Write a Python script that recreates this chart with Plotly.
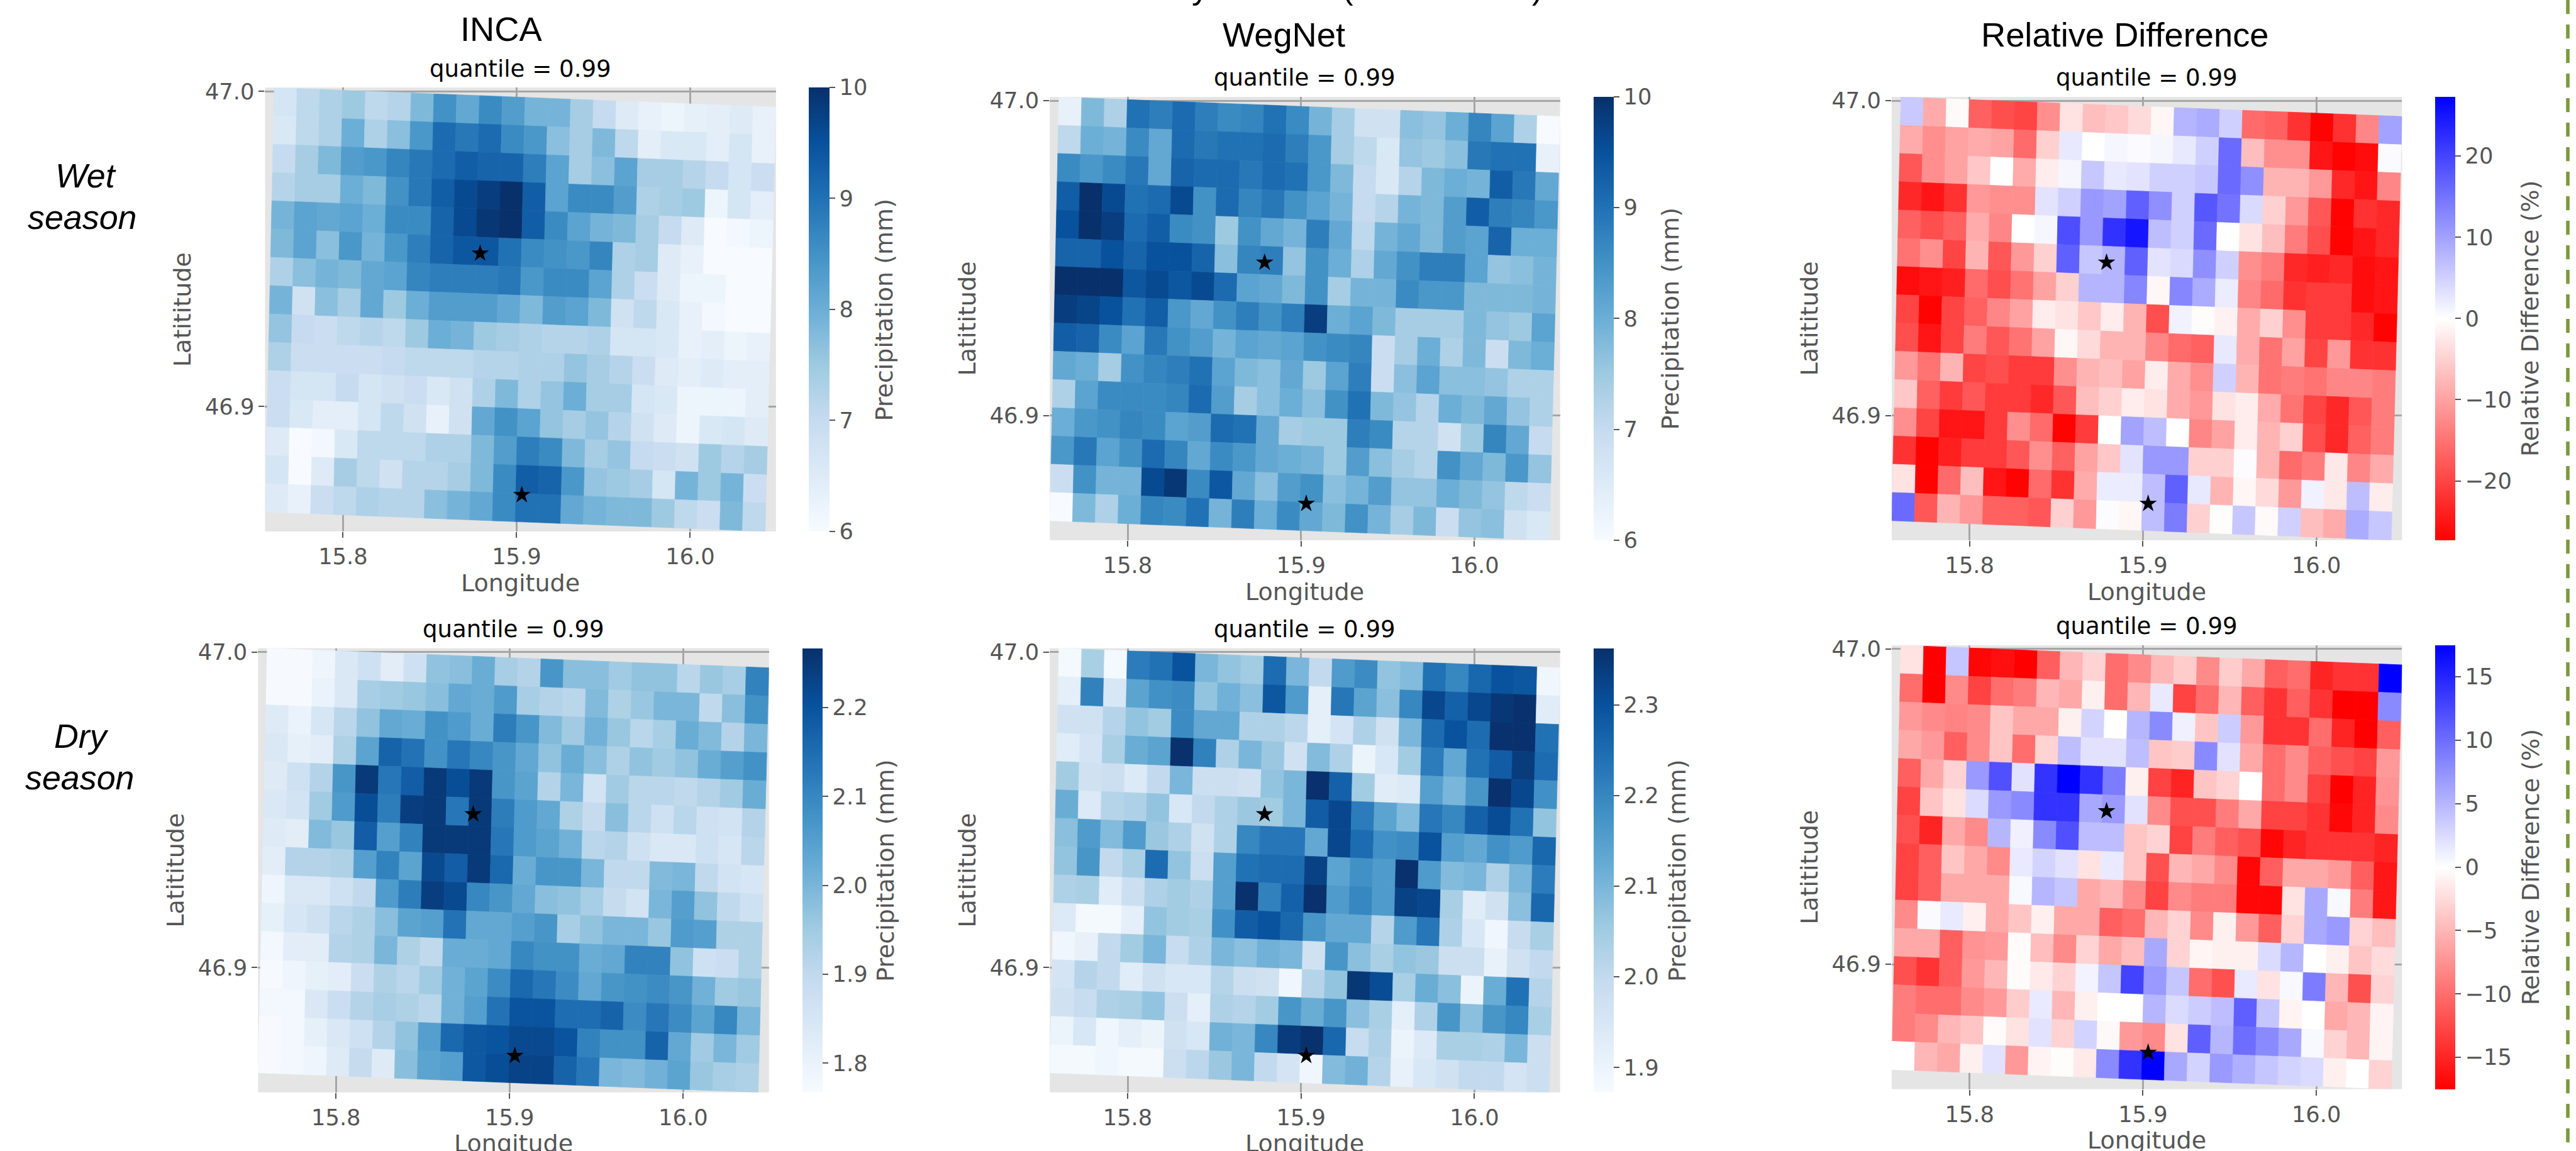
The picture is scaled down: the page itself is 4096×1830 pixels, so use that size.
import plotly.graph_objects as go
from plotly.colors import sample_colorscale

S = 0.928
W, H = 4412, 1971

inca_wet = [
[6.7,7.1,7.3,7.5,7.1,7.2,7.8,8.5,8.1,8.6,8.3,7.9,7.9,7.4,7.0,6.5,6.3,6.2,6.35,6.4,6.5,6.3],
[6.6,7.1,7.3,8.0,7.3,7.7,8.4,9.1,8.9,9.1,8.6,8.4,7.7,7.4,7.8,7.1,6.4,6.6,6.6,6.4,6.7,6.3],
[7.0,7.4,7.8,8.3,8.4,8.7,8.9,9.1,9.3,9.2,9.2,8.8,8.2,7.4,7.7,8.2,7.4,7.4,7.2,7.0,6.7,6.9],
[7.2,7.4,7.4,8.0,7.8,8.5,8.9,9.3,9.6,9.8,10,9.3,8.2,8.6,8.6,8.3,7.3,7.4,7.5,6.2,6.7,6.4],
[7.9,8.2,8.1,8.2,8.0,8.6,8.6,9.2,9.6,9.9,10,9.3,8.6,8.2,7.9,7.8,7.4,7.0,6.5,6.0,6.1,6.2],
[7.8,8.2,7.7,8.4,7.9,8.4,8.8,9.2,9.4,9.4,9.0,8.6,8.5,8.4,8.7,7.3,7.4,6.5,6.3,6.0,6.0,6.0],
[7.3,7.7,7.9,7.8,8.1,8.2,8.7,8.8,8.8,8.8,8.9,8.4,8.6,8.6,8.2,7.3,6.9,6.5,6.2,6.2,6.0,6.0],
[7.9,6.8,7.7,7.4,8.1,7.5,8.0,8.3,8.3,8.3,8.1,7.8,8.3,8.2,7.8,6.8,7.1,6.6,6.3,6.1,6.0,6.0],
[7.6,7.0,6.9,7.1,7.2,7.1,7.5,8.0,7.9,7.5,7.4,7.3,7.2,7.2,7.3,6.7,6.7,6.6,6.3,6.4,6.2,6.3],
[7.3,6.9,6.9,6.9,6.9,7.0,7.1,7.1,7.1,7.2,7.2,7.3,7.3,7.6,7.4,7.2,6.9,6.5,6.4,6.5,6.4,6.4],
[6.9,6.7,6.7,7.0,6.7,6.8,6.9,6.6,6.8,7.3,7.8,7.3,7.6,8.0,7.4,7.4,6.7,6.6,6.2,6.2,6.2,6.4],
[6.9,6.6,6.4,6.4,6.7,7.1,6.8,6.3,6.8,8.1,8.5,8.2,7.6,7.4,7.6,7.2,6.8,6.5,6.2,6.6,6.7,6.5],
[6.5,6.0,6.1,6.6,7.1,7.1,7.1,7.3,7.3,7.8,8.3,8.8,8.6,7.8,7.4,7.6,7.0,6.9,6.8,7.5,7.2,7.4],
[6.7,6.0,6.5,7.4,7.1,6.8,7.2,7.2,7.4,7.8,8.6,9.3,9.2,8.4,7.6,7.5,7.4,6.7,7.9,7.5,7.9,6.9],
[6.5,6.3,6.9,7.1,7.3,7.2,7.2,7.7,7.9,8.1,8.6,9.0,9.0,8.1,7.9,7.8,7.8,7.5,7.1,6.9,7.8,7.1],
]
wegnet_wet = [
[6.3,7.8,7.3,9.0,8.8,9.1,8.8,8.6,8.7,9.0,8.6,7.9,7.4,6.8,6.8,7.7,7.6,8.0,8.7,8.2,7.3,6.0],
[7.1,8.0,7.9,8.6,8.1,9.1,8.9,9.0,9.0,9.1,8.8,8.4,7.4,7.1,6.6,7.6,7.5,7.7,8.9,9.0,9.0,6.3],
[8.6,8.4,8.6,8.9,8.1,9.2,9.1,9.1,8.9,9.1,9.0,8.4,7.8,7.0,6.6,7.2,7.8,8.0,7.9,9.3,8.9,8.1],
[9.3,10,9.6,9.0,9.1,9.6,8.5,9.1,8.7,8.9,8.5,8.2,7.9,7.0,7.2,7.9,7.8,8.3,9.3,8.8,8.7,8.4],
[9.5,10,9.8,9.1,9.3,8.6,8.5,7.5,8.5,8.1,7.9,8.8,8.1,7.1,7.9,8.1,7.8,8.3,8.2,9.2,8.0,8.0],
[9.2,9.2,9.5,9.2,9.5,9.5,9.2,7.7,8.7,8.8,7.6,8.5,8.0,7.3,8.1,8.5,8.8,8.8,8.2,7.6,7.7,7.9],
[10,10,10,9.4,9.6,9.4,9.6,9.1,8.2,8.1,7.8,8.5,7.4,7.9,7.9,8.6,8.4,8.4,7.8,7.8,7.8,7.9],
[9.8,9.7,9.5,9.0,9.3,8.4,8.1,8.5,8.8,8.5,8.8,9.8,8.0,8.2,7.8,7.4,7.4,7.4,7.8,7.6,7.5,8.2],
[9.3,9.2,8.6,8.2,8.9,8.5,8.3,7.9,8.2,8.1,8.2,8.5,8.6,8.7,6.9,7.4,8.0,7.3,7.8,6.9,7.8,8.0],
[8.1,8.0,7.4,8.5,8.7,8.8,9.0,8.2,7.8,7.7,8.1,7.5,8.2,8.8,6.9,7.7,8.2,7.7,7.7,7.6,7.3,7.3],
[7.3,8.2,8.6,8.6,8.6,8.7,9.1,8.3,7.4,7.7,8.0,7.7,8.5,9.0,7.8,7.6,7.2,8.0,7.8,8.1,7.6,7.3],
[8.0,8.4,8.5,8.7,8.6,8.2,8.3,9.1,9.0,8.1,7.4,7.5,7.5,8.8,8.6,7.2,7.2,6.8,7.5,8.7,8.1,7.0],
[8.4,8.9,8.2,8.5,9.1,8.7,8.1,8.6,8.4,8.1,8.0,7.9,7.5,8.3,7.7,7.4,7.2,8.5,8.1,7.8,8.4,7.6],
[6.9,8.5,7.9,7.9,9.6,9.9,8.6,9.4,8.1,7.7,8.3,8.5,7.7,7.9,8.3,7.6,7.6,8.0,7.8,7.6,7.1,6.9],
[6.0,7.8,7.3,8.0,8.7,8.6,9.0,7.9,8.8,8.0,8.6,8.1,7.8,8.5,7.9,7.4,7.8,6.9,7.6,7.7,6.8,6.6],
]
diff_wet = [
[5.8,-9,-0.5,-17,-19,-20,-12,-3,-7,-6,-4,-1,8,9,5,-16,-17,-22,-27,-22,-13,10],
[-9,-12,-10,-9,-10,-16,-5,2.5,0,1,0.5,1,2.5,5,16,-7,-12,-12,-25,-27,-26,0.5],
[-18,-12,-10,-6,0,-9,-2,1,6,2.5,3,5,5,6,16,12,-8,-8,-11,-23,-25,-13],
[-23,-25,-22,-11,-12,-12,3,5,11,10,17,12,5,18,15,4,-5,-11,-18,-27,-22,-23],
[-17,-19,-17,-9,-13,0,1,19,11,22,25,7,5,16,0,-3,-7,-14,-19,-27,-25,-23],
[-15,-12,-20,-8,-18,-11,-5,17,6,8,17,3,4,12,5,-12,-14,-23,-24,-23,-26,-25],
[-26,-25,-24,-16,-19,-15,-10,-5,8,8,13,-1,13,9,2,-13,-16,-22,-21,-21,-26,-25],
[-20,-27,-20,-17,-13,-10,-2,-3,-6,-2,-8,-19,1.5,-0.3,-1.5,-9,-5,-12,-21,-21,-23,-27],
[-19,-25,-20,-14,-18,-15,-10,-1,-4,-8,-8,-13,-16,-17,2.5,-9,-15,-10,-20,-11,-22,-22],
[-11,-15,-8,-20,-19,-21,-21,-12,-8,-7,-10,-2,-9,-12,5,-8,-15,-14,-15,-13,-13,-14],
[-6,-17,-21,-18,-21,-21,-23,-18,-7,-5,-2,-3,-9,-11,-3,-2,-9,-15,-20,-23,-18,-14],
[-12,-20,-25,-25,-21,-12,-16,-27,-21,0,10,7,0,-13,-10,-2,-8,-5,-19,-23,-17,-14],
[-22,-27,-24,-21,-21,-18,-12,-17,-10,-6,3,11,11,-5,-5,0.3,-8,-16,-14,-2.5,-13,-9],
[-3,-27,-16,-7,-25,-27,-16,-22,-9,2,2,7,17,2.5,-8,-1,-4,-11,1.5,-2.5,7,-2],
[16,-18,-8,-11,-17,-17,-18,-5,-11,0.3,-1,7,14,-5,-0.3,6,-0.5,5,-7,-9,9,6],
]
inca_dry = [
[1.77,1.77,1.79,1.84,1.87,1.82,1.87,1.97,1.98,2.02,1.94,1.92,2.07,1.98,1.98,1.95,1.97,1.97,1.91,1.96,1.94,2.11],
[1.77,1.77,1.80,1.84,1.94,1.95,1.96,1.98,2.03,2.02,2.06,1.94,1.92,1.91,1.99,1.93,1.96,2.0,2.0,1.9,1.98,2.08],
[1.83,1.8,1.85,1.91,1.97,2.03,2.02,2.08,2.06,2.02,2.12,2.07,1.99,1.95,2.01,1.96,1.91,1.94,2.02,1.99,1.92,2.0],
[1.84,1.81,1.82,1.93,2.04,2.17,2.14,2.08,2.13,2.10,2.07,2.03,1.97,2.02,1.98,1.93,1.97,1.95,1.97,2.02,2.05,2.08],
[1.83,1.87,1.92,2.07,2.25,2.13,2.18,2.25,2.21,2.25,2.07,2.04,1.92,2.0,1.86,1.95,1.91,1.91,1.90,1.92,1.95,2.02],
[1.84,1.86,1.95,2.06,2.21,2.12,2.24,2.25,2.13,2.25,2.12,2.06,2.03,1.93,1.89,1.98,1.91,1.87,1.91,1.87,1.86,1.92],
[1.83,1.82,1.99,1.96,2.18,2.05,2.11,2.25,2.25,2.25,2.13,2.06,2.04,2.01,1.91,1.92,1.87,1.84,1.84,1.87,1.85,1.91],
[1.82,1.92,1.92,1.93,2.05,2.11,2.04,2.22,2.18,2.25,2.16,2.02,2.07,2.07,2.0,1.9,1.9,1.99,2.0,1.9,1.86,1.85],
[1.79,1.84,1.84,1.87,1.9,2.06,2.12,2.24,2.22,2.10,2.07,2.03,1.98,1.97,1.94,1.89,1.86,2.0,2.05,1.97,1.9,1.87],
[1.81,1.85,1.87,1.91,1.93,1.98,2.04,2.05,2.14,2.03,2.03,2.05,2.07,1.94,1.97,2.0,2.0,1.96,2.06,2.05,1.93,1.93],
[1.78,1.82,1.82,1.92,1.93,2.0,1.93,1.90,2.02,2.02,2.03,2.1,2.08,2.08,2.02,2.03,2.11,2.11,1.97,1.87,1.88,1.93],
[1.77,1.79,1.81,1.82,1.88,1.93,1.91,1.95,2.01,2.04,2.09,2.16,2.13,2.09,2.03,2.07,2.08,2.09,2.07,2.01,1.95,1.96],
[1.78,1.78,1.84,1.88,1.92,1.94,1.93,1.91,2.01,2.05,2.14,2.2,2.2,2.15,2.15,2.17,2.09,2.13,2.09,2.04,2.1,2.0],
[1.77,1.78,1.81,1.84,1.87,1.92,1.97,2.05,2.16,2.19,2.2,2.22,2.22,2.2,2.11,2.08,2.08,2.17,2.03,1.95,2.0,1.95],
[1.77,1.78,1.79,1.83,1.89,1.83,1.98,2.04,2.05,2.19,2.21,2.23,2.23,2.17,2.13,2.0,1.99,2.01,2.04,1.96,1.94,1.93],
]
wegnet_dry = [
[1.88,2.04,1.88,2.22,2.24,2.3,2.1,2.07,2.05,2.25,2.1,2.0,2.16,2.19,2.07,2.09,2.24,2.2,2.26,2.3,2.29,1.89],
[1.92,2.21,1.95,2.14,2.18,2.19,2.07,2.11,2.08,2.29,2.16,1.92,2.23,2.14,2.08,2.2,2.32,2.27,2.32,2.35,2.36,1.93],
[1.97,1.97,2.02,2.07,2.05,2.19,2.13,2.13,2.03,2.03,2.01,1.92,1.96,2.03,1.97,2.1,2.25,2.3,2.25,2.36,2.36,2.24],
[1.93,1.96,2.04,2.12,2.14,2.36,2.21,2.03,2.1,2.06,1.97,2.09,2.03,1.9,1.95,2.05,2.22,2.13,2.24,2.28,2.34,2.25],
[2.05,1.97,1.98,1.94,2.0,2.1,1.98,1.98,1.97,2.07,2.1,2.36,2.27,2.05,1.93,1.94,2.15,2.1,2.17,2.36,2.32,2.18],
[2.12,1.94,2.02,2.03,2.07,1.95,2.0,2.03,2.06,2.05,2.1,2.28,2.32,2.22,2.14,2.09,2.23,2.2,2.27,2.31,2.24,2.07],
[2.08,2.16,2.09,2.16,2.06,2.03,1.97,2.03,2.2,2.23,2.23,2.13,2.32,2.25,2.18,2.19,2.3,2.15,2.13,2.18,2.16,2.26],
[2.07,2.17,2.0,2.04,2.25,2.07,1.98,2.15,2.24,2.25,2.25,2.33,2.14,2.18,2.16,2.36,2.16,2.09,2.1,2.03,2.1,2.22],
[2.03,2.04,1.93,1.98,2.03,2.05,2.03,2.15,2.36,2.21,2.27,2.36,2.16,2.2,2.16,2.33,2.32,2.04,1.93,1.97,2.08,2.26],
[1.94,1.88,1.88,1.92,2.07,2.05,2.04,2.18,2.28,2.3,2.26,2.17,2.13,2.13,2.02,2.16,2.23,2.03,1.95,1.89,1.99,2.04],
[1.89,1.91,2.0,2.05,2.1,1.99,2.03,2.1,2.08,2.11,2.1,1.97,2.17,2.08,2.04,2.07,2.06,1.98,1.98,1.91,1.97,2.0],
[1.96,2.02,2.0,1.93,1.97,1.95,1.95,2.02,1.98,1.97,1.89,2.02,2.07,2.35,2.31,2.04,2.12,2.08,1.9,2.12,2.24,2.02],
[1.97,1.99,2.03,2.04,2.07,1.98,1.92,2.03,2.02,2.05,2.17,2.12,2.17,2.08,2.04,1.92,2.03,2.17,2.08,2.17,2.2,2.04],
[1.9,1.95,1.89,1.92,1.9,1.97,1.95,2.11,2.1,2.2,2.34,2.36,2.26,1.99,2.03,1.9,1.94,2.04,2.04,2.03,2.1,1.98],
[1.88,1.88,1.89,1.88,1.88,1.98,2.01,2.06,2.1,2.0,1.96,1.89,2.09,2.11,2.02,1.91,1.95,1.97,2.0,2.0,1.96,1.98],
]
diff_dry = [
[-2,-17.5,4,-17,-16.5,-17.5,-11,-5,-3,-10,-8,-5,-3.5,-8,-3.5,-6,-11,-10,-15,-14,-14,17.5],
[-10,-17.5,-8,-13,-10,-9,-5,-6,-1,-10,-5,1.5,-13,-10,-5,-11,-14,-11,-14,-17.5,-17.5,8],
[-7,-8,-8.5,-8,-4,-6,-6,-1,3,0,5,8,1,-4,3.5,-7,-14,-14,-10,-15,-17.5,-11],
[-6,-7,-11,-8,-4,-10,-3,4.5,2,2,4.5,-4,-3.5,8,2,-6,-10,-8,-11,-12,-13,-7],
[-11,-6,-3,7,12,2,14,17.5,14,9,-1,-13,-15,-4,-3,0,-10,-8,-13,-17.5,-15,-7.5],
[-13,-4,-2,2.5,7,8,14,14,6,7,2,-8,-12,-12,-9,-6,-13,-13,-14,-17,-15,-8],
[-12,-15,-6,-8,5,1,8,12,4.5,4.5,-4,-3,-13,-9,-11,-12,-17,-15,-14,-14,-14,-15],
[-13,-11,-4,-6,-8,1.5,3,2,-2,1.5,-4,-12,-5,-6,-8,-17,-11,-6,-6,-7,-11,-16],
[-13,-11,-6,-6,-6,0.5,5,4,-6,-5,-8,-13,-8,-9,-9,-17,-17,-2,6,0.5,-9,-16],
[-8,0.3,1.5,-1,-6,-4,-1,-6,-6,-11,-10,-5,-3,-8,-1,-7,-11,-3,6,7,-3,-4.5],
[-6,-6,-11,-7.5,-7,-0.3,-4.5,-8,-3,-6,-4.5,6,-3,-0.7,-1,-1,2.5,5,0,-1,-4,-2.5],
[-12,-14,-11,-7,-5,-0.3,-1.5,-3,0.8,4,13,7,4,-10,-12,1.5,-2,0.5,9,-5,-12,-3],
[-9,-10,-10,-8,-7,-3.5,1.5,-5,-1,0,0,5,2.5,3.5,4.5,11,4,-0.8,0,-6,-5,-0.8],
[-9,-8,-5,-4,-0.3,-2,2,-3,3,-0.5,-7,-8,-2,11,5,10,8,6,0.5,-3,-5,-0.8],
[0,-5,-6,-1,2,-7,-0.8,-0.2,-1.5,8,14,17.5,6,3,7,5.5,4,3,2.5,-1,0,-3],
]

col_titles = ["INCA", "WegNet", "Relative Difference"]
subtitle = "quantile = 0.99"
x_ticks = [15.8, 15.9, 16.0]
y_ticks = [46.9, 47.0]
x_label = "Longitude"
y_label = "Latititude"
precip_label = "Precipitation (mm)"
diff_label = "Relative Difference (%)"
star_lon = [15.879, 15.903]
star_lat = [46.9486, 46.872]

# mesh corners in degrees: (lon, lat)
TL = (15.7604, 47.0012)
TR = (16.0494, 46.9950)
BL = (15.7551, 46.8666)
BR = (16.0432, 46.8604)

BLUES = "Blues"
BWR = [[0, "#ff0000"], [0.5, "#ffffff"], [1, "#0000ff"]]

panels = [
    dict(z=inca_wet, box=(454, 1329, 150, 910), cb=(1385, 1421), lim=(6, 10), cs=BLUES,
         ticks=[6, 7, 8, 9, 10], tt=None, lab=precip_label, labx=1515),
    dict(z=wegnet_wet, box=(1798, 2672, 166, 925), cb=(2730, 2765), lim=(6, 10), cs=BLUES,
         ticks=[6, 7, 8, 9, 10], tt=None, lab=precip_label, labx=2861),
    dict(z=diff_wet, box=(3240, 4114, 166, 925), cb=(4171, 4206), lim=(-27.3, 27.3), cs=BWR,
         ticks=[-20, -10, 0, 10, 20], tt=None, lab=diff_label, labx=4334),
    dict(z=inca_dry, box=(442, 1317, 1110, 1870.6), cb=(1374.5, 1409), lim=(1.767, 2.2667), cs=BLUES,
         ticks=[1.8, 1.9, 2.0, 2.1, 2.2], tt=["1.8", "1.9", "2.0", "2.1", "2.2"], lab=precip_label, labx=1516),
    dict(z=wegnet_dry, box=(1798, 2672, 1110, 1870.6), cb=(2730, 2765), lim=(1.8725, 2.3627), cs=BLUES,
         ticks=[1.9, 2.0, 2.1, 2.2, 2.3], tt=["1.9", "2.0", "2.1", "2.2", "2.3"], lab=precip_label, labx=2872),
    dict(z=diff_dry, box=(3240, 4114, 1105, 1865), cb=(4171, 4206), lim=(-17.5, 17.5), cs=BWR,
         ticks=[-15, -10, -5, 0, 5, 10, 15], tt=None, lab=diff_label, labx=4334),
]

TICK = "#555555"
FONT = "DejaVu Sans"
ARIAL = "Liberation Sans"


def px(v):
    return v / W


def py(v):
    return 1 - v / H


def corner(i, j, nr, nc):
    u, v = j / nc, i / nr
    lon = (TL[0] * (1 - u) + TR[0] * u) * (1 - v) + (BL[0] * (1 - u) + BR[0] * u) * v
    lat = (TL[1] * (1 - u) + TR[1] * u) * (1 - v) + (BL[1] * (1 - u) + BR[1] * u) * v
    return lon, lat


fig = go.Figure()
layout = dict(
    width=4096, height=1830, margin=dict(l=0, r=0, t=0, b=0, pad=0, autoexpand=False),
    paper_bgcolor="white", plot_bgcolor="#E5E5E5", showlegend=False,
    font=dict(family=FONT, color=TICK), hovermode=False,
)
annots = []

for k, p in enumerate(panels):
    n = "" if k == 0 else str(k + 1)
    xa, ya = "x" + n, "y" + n
    l, r, t, b = p["box"]
    common = dict(showgrid=True, gridcolor="#A6A6A6", gridwidth=2.6, zeroline=False, showline=False,
                  ticks="outside", ticklen=9, tickwidth=2, tickcolor=TICK,
                  tickfont=dict(family=FONT, size=38 * S, color=TICK))
    layout["xaxis" + n] = dict(domain=[px(l), px(r)], range=[BL[0], TR[0]], anchor=ya, tickvals=x_ticks,
                               ticktext=["15.8", "15.9", "16.0"], **common)
    layout["yaxis" + n] = dict(domain=[py(b), py(t)], range=[BR[1], TL[1]], anchor=xa, tickvals=y_ticks,
                               ticktext=["46.9", "47.0"],
                               title=dict(text=y_label, font=dict(family=FONT, size=41 * S, color=TICK), standoff=10),
                               **common)
    zmin, zmax = p["lim"]
    # colourbar carrier, hidden underneath the mesh
    fig.add_trace(go.Scatter(
        x=[star_lon[0]], y=[star_lat[0]], xaxis=xa, yaxis=ya, mode="markers", hoverinfo="skip",
        marker=dict(size=1, color=[p["z"][5][9]], colorscale=p["cs"], cmin=zmin, cmax=zmax, showscale=True,
                    colorbar=dict(
                        x=px(p["cb"][0]), xanchor="left", y=py(b), yanchor="bottom",
                        len=(b - t) / H, lenmode="fraction", thickness=(p["cb"][1] - p["cb"][0]) * S,
                        thicknessmode="pixels", xpad=0, ypad=0, outlinewidth=0, borderwidth=0,
                        tickvals=p["ticks"], ticktext=p["tt"], ticks="outside", ticklen=9, tickwidth=2,
                        tickcolor=TICK, tickfont=dict(family=FONT, size=38 * S, color=TICK)))))
    z = p["z"]
    nr, nc = len(z), len(z[0])
    assert all(len(row) == nc for row in z), k
    for i in range(nr):
        for j in range(nc):
            tt = min(1, max(0, (z[i][j] - zmin) / (zmax - zmin)))
            c = sample_colorscale(p["cs"], [tt])[0]
            pts = [corner(i, j, nr, nc), corner(i, j + 1, nr, nc), corner(i + 1, j + 1, nr, nc),
                   corner(i + 1, j, nr, nc), corner(i, j, nr, nc)]
            fig.add_trace(go.Scatter(x=[q[0] for q in pts], y=[q[1] for q in pts], xaxis=xa, yaxis=ya,
                                     mode="lines", fill="toself", fillcolor=c,
                                     line=dict(color=c, width=0.7), hoverinfo="skip"))
    fig.add_trace(go.Scatter(x=star_lon, y=star_lat, xaxis=xa, yaxis=ya, mode="markers", hoverinfo="skip",
                             marker=dict(symbol="star", size=21, color="black", line=dict(width=0))))
    annots.append(dict(text=subtitle, xref="paper", yref="paper", x=px((l + r) / 2), y=py(t - 19),
                       xanchor="center", yanchor="bottom", showarrow=False, yshift=-11,
                       font=dict(family=FONT, size=40 * S, color="black")))
    annots.append(dict(text=p["lab"], xref="paper", yref="paper", x=px(p["labx"]), y=py((t + b) / 2),
                       xanchor="center", yanchor="middle", showarrow=False, textangle=-90,
                       font=dict(family=FONT, size=41 * S, color=TICK)))
    annots.append(dict(text=x_label, xref="paper", yref="paper", x=px((l + r) / 2), y=py(b + 88),
                       xanchor="center", yanchor="middle", showarrow=False,
                       font=dict(family=FONT, size=41 * S, color=TICK)))


def label(text, x, base, size, family=ARIAL, color="black", italic=False):
    # base: text baseline in reference pixels
    annots.append(dict(text=text, xref="paper", yref="paper", x=px(x), y=py(base),
                       xanchor="center", yanchor="bottom", showarrow=False, yshift=-size * S * 0.2,
                       font=dict(family=family, size=size * S, color=color, style="italic" if italic else "normal")))


label(col_titles[0], 858, 73, 58.5)
label(col_titles[1], 2199, 83, 58.5)
label(col_titles[2], 3639, 83, 58.5)
label("Wet", 147, 323, 58, italic=True)
label("season", 141, 394, 58, italic=True)
label("Dry", 139, 1283, 58, italic=True)
label("season", 137, 1354, 58, italic=True)
# main title: only these descenders fall inside the picture
for g, x in zip(["y", "(", ")"], [2056, 2308, 2634]):
    annots.append(dict(text=g, xref="paper", yref="paper", x=px(x), y=1, xanchor="center", yanchor="bottom",
                       showarrow=False, yshift=-11, font=dict(family=ARIAL, size=57 * S, color="black")))

layout["annotations"] = annots
layout["shapes"] = [dict(type="line", xref="paper", yref="paper", x0=px(4398), x1=px(4398), y0=1, y1=0,
                         line=dict(color="#7B9A3C", width=6 * S, dash="22.3px,16.7px"))]
fig.update_layout(**layout)
fig.write_html("out.html", config=dict(displayModeBar=False),
               post_script="document.body.style.margin='0';document.body.style.overflow='hidden';window.dispatchEvent(new Event('resize'));")
